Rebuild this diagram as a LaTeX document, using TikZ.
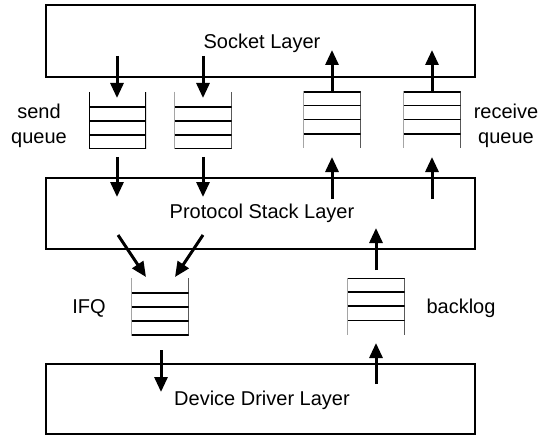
\documentclass[tikz,border=0pt]{standalone}
\usepackage{fontspec}
\setmainfont{Liberation Sans}
\usetikzlibrary{arrows.meta,calc}
\tikzset{
  layer/.style={draw, line width=1.4pt, minimum width=429pt, minimum height=71pt, inner sep=0pt},
  lbl/.style={align=center, inner sep=0pt},
  flow/.style={line width=3pt, -{Triangle[length=15pt,width=13pt]}},
  qbase/.style={minimum width=57pt, minimum height=57pt, inner sep=0pt},
  sendq/.style={qbase, path picture={
      \path (path picture bounding box.north west) coordinate (qnw)
            (path picture bounding box.south east) coordinate (qse);
      \draw[line width=1.4pt] (qnw) |- (qse) -- (qse |- qnw);
      \foreach \f in {0.26,0.51,0.755}
        \draw[line width=1.7pt] ($(qnw)!\f!(qnw |- qse)$) -- ($(qse |- qnw)!\f!(qse)$);
      \draw[line width=2.4pt] (qnw |- qse) -- (qse);
  }},
  recvq/.style={qbase, path picture={
      \path (path picture bounding box.north west) coordinate (qnw)
            (path picture bounding box.south east) coordinate (qse);
      \draw[line width=1.4pt] (qnw |- qse) |- (qse |- qnw) -- (qse);
      \foreach \f in {0.245,0.49,0.745}
        \draw[line width=1.7pt] ($(qnw)!\f!(qnw |- qse)$) -- ($(qse |- qnw)!\f!(qse)$);
      \draw[line width=2.4pt] (qnw) -- (qse |- qnw);
  }},
}
\begin{document}
\begin{tikzpicture}[x=1pt, y=-1pt, font=\fontsize{20pt}{24.5pt}\selectfont]
\useasboundingbox (0,0) rectangle (547,436);
% layers
\node[layer, minimum height=72pt] (sock) at (260.5,41) {};
\node[lbl] (socklbl) at (262,43) {Socket Layer};
\node[layer, minimum height=71pt] (prot) at (260.5,213.5) {};
\node[lbl] (protlbl) at (262,213) {Protocol Stack Layer};
\node[layer, minimum height=70pt] (dev) at (260.5,399) {};
\node[lbl] (devlbl) at (262,400) {Device Driver Layer};
% queues
\node[sendq] (sq1) at (117.5,120.5) {};
\node[sendq] (sq2) at (203,120.5) {};
\node[recvq] (rq1) at (332,120) {};
\node[recvq] (rq2) at (432,120) {};
\node[sendq] (ifq) at (160,306.5) {};
\node[recvq] (bl) at (376,306.5) {};
% labels
\node[lbl] (sendlbl) at (39,126) {send\\queue};
\node[lbl] (recvlbl) at (506,126) {receive\\queue};
\node[lbl] (ifqlbl) at (89,308) {IFQ};
\node[lbl] (bllbl) at (461,308) {backlog};
% arrow end points
\coordinate (a1s) at (117,56);  \coordinate (a1e) at (117,98);
\coordinate (a2s) at (203,56);  \coordinate (a2e) at (203,98);
\coordinate (a3s) at (117,157); \coordinate (a3e) at (117,197);
\coordinate (a4s) at (203,157); \coordinate (a4e) at (203,197);
\coordinate (b1s) at (332,199); \coordinate (b1e) at (332,157);
\coordinate (b2s) at (432,199); \coordinate (b2e) at (432,157);
\coordinate (b3s) at (332,92);  \coordinate (b3e) at (332,50);
\coordinate (b4s) at (432,92);  \coordinate (b4e) at (432,50);
\coordinate (d1s) at (118,235); \coordinate (d1e) at (146,277);
\coordinate (d2s) at (203,235); \coordinate (d2e) at (175,277);
\coordinate (f1s) at (161,350); \coordinate (f1e) at (161,392);
\coordinate (g1s) at (376,384); \coordinate (g1e) at (376,343);
\coordinate (g2s) at (376,270); \coordinate (g2e) at (376,228);
% arrows
\draw[flow] (a1s) -- (a1e);
\draw[flow] (a2s) -- (a2e);
\draw[flow] (a3s) -- (a3e);
\draw[flow] (a4s) -- (a4e);
\draw[flow] (b1s) -- (b1e);
\draw[flow] (b2s) -- (b2e);
\draw[flow] (b3s) -- (b3e);
\draw[flow] (b4s) -- (b4e);
\draw[flow] (d1s) -- (d1e);
\draw[flow] (d2s) -- (d2e);
\draw[flow] (f1s) -- (f1e);
\draw[flow] (g1s) -- (g1e);
\draw[flow] (g2s) -- (g2e);
\end{tikzpicture}
\end{document}
